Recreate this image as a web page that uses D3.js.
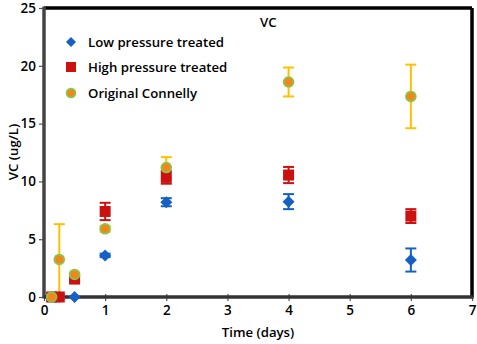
<!DOCTYPE html>
<html><head><meta charset="utf-8">
<script src="https://cdn.jsdelivr.net/npm/d3@7"></script>
<style>body{margin:0;background:#fff}svg{display:block}text{font-family:"Open Sans",sans-serif;}</style>
</head><body><svg id="c" width="477" height="344"></svg>
<script>
const xTicks=[0,1,2,3,4,5,6,7];
const yTicks=[0,5,10,15,20,25];
const lowX=[0.125,0.25,0.5,1,2,4,6];
const lowY=[0,0,0,3.6,8.2,8.25,3.2];
const lowErr=[0,0,0,0.15,0.35,0.65,1.0];
const highX=[0.125,0.25,0.5,1,2,4,6];
const highY=[0,0,1.55,7.4,10.35,10.55,7.0];
const highErr=[0,0,0.2,0.75,0.55,0.7,0.6];
const origX=[0.125,0.25,0.5,1,2,4,6];
const origY=[0,3.25,1.95,5.9,11.2,18.6,17.35];
const origErr=[0,3.05,0.15,0.25,0.9,1.25,2.75];
const seriesNames=["Low pressure treated","High pressure treated","Original Connelly"];

const svg=d3.select("#c");
const L=44,R=472,T=8,B=297;
const x=d3.scaleLinear().domain([0,7]).range([L,R]);
const y=d3.scaleLinear().domain([0,25]).range([B,T]);
const FS=13.2;

const gx=svg.append("g").attr("transform",`translate(0,${B})`)
  .call(d3.axisBottom(x).tickValues(xTicks).tickSize(4).tickPadding(4).tickFormat(d3.format("d")));
const gy=svg.append("g").attr("transform",`translate(${L},0)`)
  .call(d3.axisLeft(y).tickValues(yTicks).tickSize(5).tickPadding(3).tickFormat(d3.format("d")));
[gx,gy].forEach(g=>{g.select(".domain").remove();
  g.selectAll("line").attr("stroke","#555").attr("stroke-width",1.2);
  g.selectAll("text").attr("font-size",13.5).attr("font-weight",600).attr("fill","#000");});
gx.selectAll("line").attr("y1",-3).attr("y2",4);

svg.append("line").attr("x1",L).attr("x2",R).attr("y1",T).attr("y2",T).attr("stroke","#000").attr("stroke-width",3.5);
svg.append("line").attr("x1",R).attr("x2",R).attr("y1",T).attr("y2",B).attr("stroke","#000").attr("stroke-width",3.5);
svg.append("line").attr("x1",L).attr("x2",L).attr("y1",T-1.5).attr("y2",B+1.5).attr("stroke","#444").attr("stroke-width",3.5);
svg.append("line").attr("x1",L).attr("x2",R+1.7).attr("y1",B).attr("y2",B).attr("stroke","#333").attr("stroke-width",3.5);

function errBars(xs,ys,es,col){
  const g=svg.append("g");
  xs.forEach((xv,i)=>{ if(!es[i])return;
    const cx=x(xv),y1=y(ys[i]+es[i]),y2=y(ys[i]-es[i]);
    g.append("line").attr("x1",cx).attr("x2",cx).attr("y1",y1).attr("y2",y2).attr("stroke",col).attr("stroke-width",2);
    [y1,y2].forEach(yy=>g.append("line").attr("x1",cx-5.5).attr("x2",cx+5.5).attr("y1",yy).attr("y2",yy).attr("stroke",col).attr("stroke-width",2));
  });
}
const blue="#1560c4",red="#cc1111",orange="#f7821e",green="#8cc43f",gold="#ffc000";
errBars(lowX,lowY,lowErr,blue);
errBars(highX,highY,highErr,red);
errBars(origX,origY,origErr,gold);

function diamondPath(s){return `M0,${-s}L${s},0L0,${s}L${-s},0Z`;}
svg.append("g").selectAll("path").data(lowX.map((d,i)=>[d,lowY[i]])).join("path")
  .attr("d",diamondPath(6)).attr("transform",d=>`translate(${x(d[0])},${y(d[1])})`).attr("fill",blue);
svg.append("g").selectAll("rect").data(highX.map((d,i)=>[d,highY[i]])).join("rect")
  .attr("x",d=>x(d[0])-5.5).attr("y",d=>y(d[1])-5.5).attr("width",11).attr("height",11).attr("fill",red);
svg.append("g").selectAll("circle").data(origX.map((d,i)=>[d,origY[i]])).join("circle")
  .attr("cx",d=>x(d[0])).attr("cy",d=>y(d[1])).attr("r",4.8).attr("fill",orange).attr("stroke",green).attr("stroke-width",2);

const ly=[42,67,93];
const lg=svg.append("g");
lg.append("path").attr("d",diamondPath(5)).attr("transform",`translate(71,${ly[0]})`).attr("fill",blue);
lg.append("rect").attr("x",66).attr("y",ly[1]-5).attr("width",10).attr("height",10).attr("fill",red);
lg.append("circle").attr("cx",71).attr("cy",ly[2]).attr("r",4.3).attr("fill",orange).attr("stroke",green).attr("stroke-width",2);
seriesNames.forEach((n,i)=>lg.append("text").attr("x",88).attr("y",ly[i]+5).attr("font-size",FS).attr("font-weight",600).text(n));

svg.append("text").attr("x",260).attr("y",27).attr("font-size",FS).attr("font-weight",600).text("VC");
svg.append("text").attr("x",258).attr("y",337).attr("text-anchor","middle").attr("font-size",FS).attr("font-weight",600).text("Time (days)");
svg.append("text").attr("transform","translate(18,152) rotate(-90)").attr("text-anchor","middle").attr("font-size",FS).attr("font-weight",600).text("VC (ug/L)");
</script></body></html>
